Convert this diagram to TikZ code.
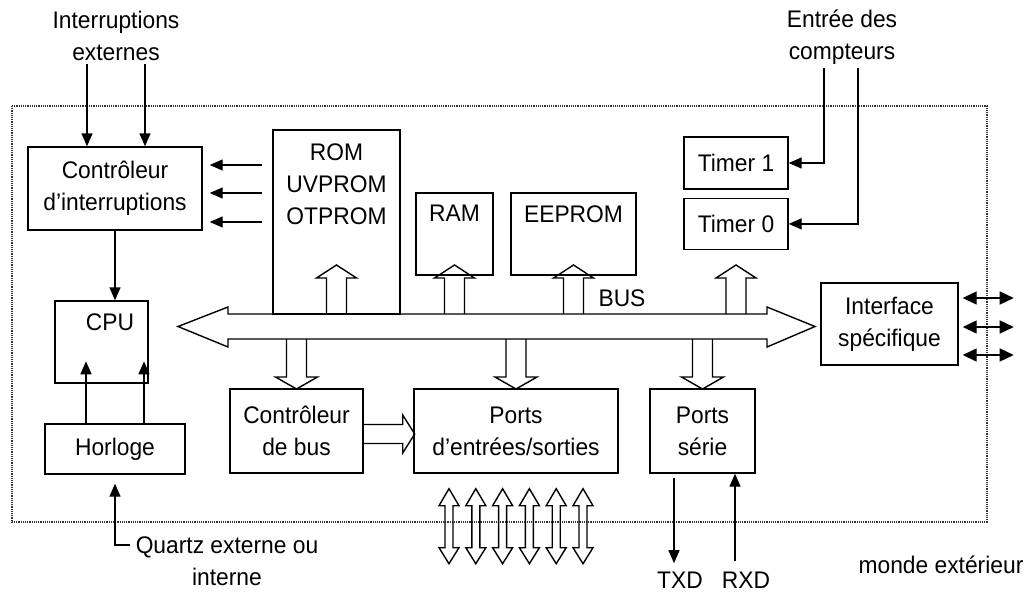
\documentclass[tikz,border=0pt]{standalone}
\usepackage{fontspec}
\setmainfont{Liberation Sans}[FakeStretch=0.95]
\usetikzlibrary{positioning}
\usetikzlibrary{arrows.meta}

\newcommand{\busup}[1]{\draw[hollow] (#1.center |- bustop) ++(-10,0) -- ++(0,-36) -- ++(-10,0) -- ++(20,-13) -- ++(20,13) -- ++(-10,0) -- ++(0,36);}
\newcommand{\busdown}[1]{\draw[hollow] (#1.north |- busbot) ++(-10,0) -- ++(0,38) -- ++(-11,0) -- ++(21,12) -- ++(21,-12) -- ++(-11,0) -- ++(0,-38);}

\begin{document}
\begin{tikzpicture}[x=1pt,y=-1pt,font=\fontsize{24}{32}\selectfont,
  blk/.style={draw,line width=1.4pt,align=center,inner sep=0pt},
  sig/.style={-{Triangle[length=13pt,width=11pt]},line width=1.4pt},
  dsig/.style={{Triangle[length=14pt,width=13pt]}-{Triangle[length=14pt,width=13pt]},line width=1.4pt},
  hollow/.style={draw,line width=1.4pt},
  frame/.style={densely dotted,line width=1.2pt,black!80}]
\useasboundingbox (0,0) rectangle (1030,594);
\draw[frame] (12,106) rectangle (987,522);

\node[blk,minimum width=174pt,minimum height=83pt] (intctl) at (115,188.5) {Contrôleur\\d'interruptions};
\node[blk,minimum width=127pt,minimum height=184pt] (rom) at (336.5,222) {};
\node[below=11pt of rom.north,align=center] (romtxt) {ROM\\UVPROM\\OTPROM};
\node[blk,minimum width=77pt,minimum height=82pt] (ram) at (454.5,234) {};
\node[below=9.5pt of ram.north] (ramtxt) {RAM};
\node[blk,minimum width=125pt,minimum height=82pt] (eeprom) at (573.5,234) {};
\node[below=9.5pt of eeprom.north] (eeptxt) {EEPROM};
\node[blk,minimum width=104pt,minimum height=52pt] (tim1) at (736,163) {Timer 1};
\node[blk,minimum width=104pt,minimum height=51pt,below=8pt of tim1] (tim0) {Timer 0};
\node[blk,minimum width=93pt,minimum height=82pt] (cpu) at (101.5,342) {};
\node[below=9.5pt of cpu.north,xshift=8.5pt] (cputxt) {CPU};
\node[blk,minimum width=140pt,minimum height=50pt] (horl) at (115,449) {Horloge};
\node[blk,minimum width=133pt,minimum height=84pt] (cbus) at (296.5,431) {Contrôleur\\de bus};
\node[blk,minimum width=204pt,minimum height=84pt] (ports) at (516,431) {Ports\\d'entrées/sorties};
\node[blk,minimum width=105pt,minimum height=84pt] (ser) at (702.5,431) {Ports\\série};
\node[blk,minimum width=137pt,minimum height=82pt] (intf) at (889.5,324) {Interface\\spécifique};

\node[align=center] (intext) at (116,36) {Interruptions\\externes};
\node[align=center] (cnt) at (842,37) {Entrée des\\compteurs};
\node[align=center] (qz) at (227,561) {Quartz externe ou\\interne};
\node (txd) at (680,580) {TXD};
\node (rxd) at (746,580) {RXD};
\node (bus) at (622,298) {BUS};
\node (monde) at (941,565) {monde extérieur};

\coordinate (bustop) at (0,314);
\coordinate (busbot) at (0,339);

\foreach \dx in {-29,29}{
  \path (intext.south) ++(\dx,0) coordinate (ie);
  \draw[sig] (ie) -- (ie |- intctl.north);
}
\path (intctl.east -| rom.west) ++(-10,0) coordinate (romout);
\foreach \dy in {-23.5,4.5,33.5}{
  \path (romout) ++(0,\dy) coordinate (r);
  \draw[sig,shorten >=7pt] (r) -- (r -| intctl.east);
}
\draw[sig] (intctl.south) -- (intctl.south |- cpu.north);
\foreach \dx in {-29,29}{
  \path (horl.north) ++(\dx,0) coordinate (h);
  \draw[sig] (h) -- ++(0,-62);
}
\path (qz.west) ++(-2,-16) coordinate (q);
\draw[sig,shorten >=9pt] (q) -| (horl.south);

\path (cnt.south) ++(-18,0) coordinate (c1);
\draw[sig] (c1) |- (tim1.east);
\path (cnt.south) ++(16,0) coordinate (c0);
\draw[sig] (c0) |- (tim0.east);

\foreach \dy in {-26,3,31}{
  \path (intf.east) ++(4,\dy) coordinate (e);
  \draw[dsig] (e) -- ++(51,0);
}

\path (ser.south) ++(-28.5,4) coordinate (tx);
\draw[sig,shorten >=5pt] (tx) -- (tx |- txd.north);
\path (ser.south) ++(32.5,0) coordinate (rx);
\draw[sig,shorten <=7pt] (rx |- rxd.north) -- (rx);

\busup{rom} \busup{ram} \busup{eeprom} \busup{tim0}
\busdown{cbus} \busdown{ports} \busdown{ser}

\path (cbus.east) ++(0,3) coordinate (cb);
\draw[hollow] (cb) ++(0,-9.5) -- ++(39,0) -- ++(0,-9.5) -- ++(12,19) -- ++(-12,19) -- ++(0,-9.5) -- ++(-39,0);

\foreach \i in {0,...,5}{
  \path (ports.south) ++(-67+26.8*\i,15) coordinate (p);
  \draw[hollow] (p) -- ++(10,17) -- ++(-6,0) -- ++(0,42) -- ++(6,0) -- ++(-10,16) -- ++(-10,-16) -- ++(6,0) -- ++(0,-42) -- ++(-6,0) -- cycle;
}

\draw[hollow] (178,326.5) -- (228,307) -- (228,314) -- (767,314) -- (767,307) -- (815,326.5) -- (767,347) -- (767,339) -- (228,339) -- (228,347) -- cycle;
\end{tikzpicture}
\end{document}
